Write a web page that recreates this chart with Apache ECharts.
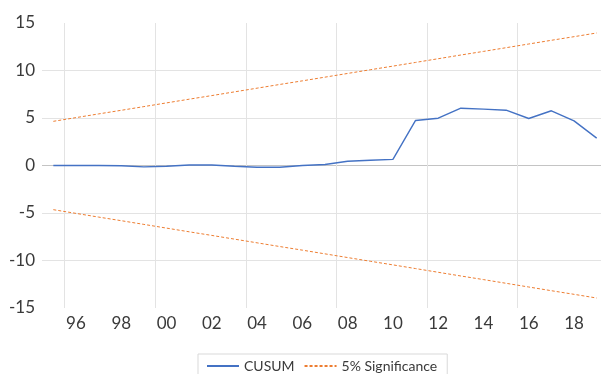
<!DOCTYPE html>
<html>
<head>
<meta charset="utf-8">
<script src="https://cdn.jsdelivr.net/npm/echarts@6/dist/echarts.min.js"></script>
<style>
  html, body { margin: 0; padding: 0; background: #fff; overflow: hidden; }
  #cusum { width: 608px; height: 374px; }
</style>
</head>
<body>
<div id="cusum"></div>
<script>
// years 1995..2019
var years = ["1995", "1996", "1997", "1998", "1999", "2000", "2001", "2002", "2003", "2004",
  "2005", "2006", "2007", "2008", "2009", "2010", "2011", "2012", "2013", "2014",
  "2015", "2016", "2017", "2018", "2019"];
var cusum = [0.0, 0.0, 0.0, -0.02, -0.15, -0.08, 0.05, 0.05, -0.08, -0.18,
  -0.18, 0.0, 0.1, 0.45, 0.55, 0.65, 4.74, 4.98, 6.03, 5.93,
  5.82, 4.95, 5.76, 4.7, 2.88];
var upper = [4.65, 5.04, 5.43, 5.81, 6.2, 6.59, 6.98, 7.36, 7.75, 8.14,
  8.53, 8.91, 9.3, 9.69, 10.08, 10.46, 10.85, 11.24, 11.63, 12.01,
  12.4, 12.79, 13.18, 13.56, 13.95];
var lower = [-4.65, -5.04, -5.43, -5.81, -6.2, -6.59, -6.98, -7.36, -7.75, -8.14,
  -8.53, -8.91, -9.3, -9.69, -10.08, -10.46, -10.85, -11.24, -11.63, -12.01,
  -12.4, -12.79, -13.18, -13.56, -13.95];

var chart = echarts.init(document.getElementById("cusum"));
var txt = "#3a3a3a";
var grid = "#e3e3e3";
var option = {
  animation: false,
  textStyle: { fontFamily: "Lato" },
  grid: { left: 42, right: 0, top: 23, bottom: 66 },
  legend: {
    left: 198,
    top: 354,
    data: ["CUSUM", "5% Significance"],
    itemWidth: 32,
    itemHeight: 10,
    itemGap: 9,
    padding: [5, 10, 10, 8],
    borderColor: "#d9d9d9",
    borderWidth: 1,
    itemStyle: { opacity: 0 },
    textStyle: { color: txt, fontSize: 14, fontFamily: "Lato" }
  },
  xAxis: {
    type: "category",
    data: years,
    boundaryGap: true,
    axisLine: { show: false, onZero: false },
    axisTick: { show: false },
    axisLabel: {
      color: txt,
      fontSize: 17,
      margin: 7,
      interval: function (i) { return i % 2 === 1; },
      formatter: function (v) { return v.slice(2); }
    },
    splitLine: {
      show: true,
      interval: function (i) { return i % 4 === 1; },
      lineStyle: { color: grid, width: 1 }
    }
  },
  yAxis: {
    type: "value",
    min: -15,
    max: 15,
    interval: 5,
    axisLine: { show: false },
    axisTick: { show: false },
    axisLabel: { color: txt, fontSize: 17, margin: 7 },
    splitLine: {
      lineStyle: {
        color: ["rgba(0,0,0,0)", grid, grid, "#c4c4c4", grid, grid, "rgba(0,0,0,0)"],
        width: 1
      }
    }
  },
  series: [
    {
      name: "CUSUM",
      type: "line",
      data: cusum,
      symbol: "none",
      z: 3,
      lineStyle: { color: "#4472C4", width: 1.4 },
      itemStyle: { color: "#4472C4" }
    },
    {
      name: "5% Significance",
      type: "line",
      data: upper,
      symbol: "none",
      lineStyle: { color: "#ED7D31", width: 1, type: [3, 2] },
      itemStyle: { color: "#ED7D31" }
    },
    {
      name: "5% Significance",
      type: "line",
      data: lower,
      symbol: "none",
      lineStyle: { color: "#ED7D31", width: 1, type: [3, 2] },
      itemStyle: { color: "#ED7D31" }
    }
  ]
};
chart.setOption(option);
</script>
</body>
</html>
